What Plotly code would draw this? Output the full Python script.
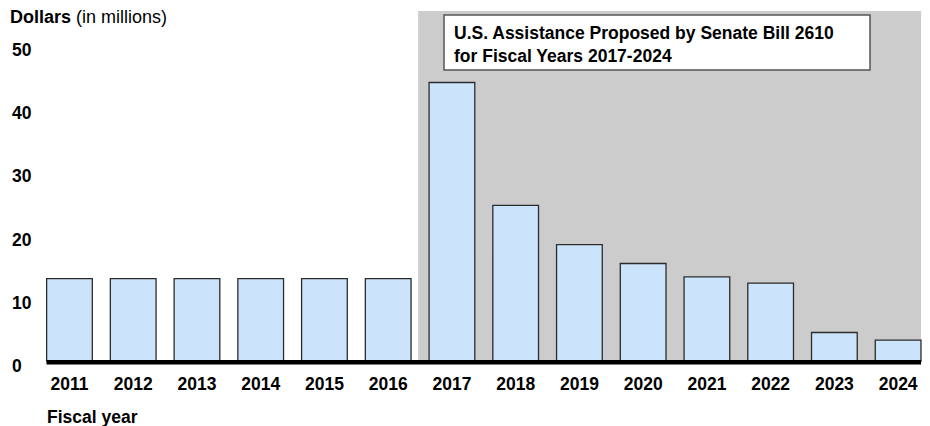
import plotly.graph_objects as go

years = ["2011", "2012", "2013", "2014", "2015", "2016", "2017",
         "2018", "2019", "2020", "2021", "2022", "2023", "2024"]
values = [13.0, 13.0, 13.0, 13.0, 13.0, 13.0, 44.0,
          24.6, 18.4, 15.4, 13.3, 12.3, 4.5, 3.3]
y_ticks = [0, 10, 20, 30, 40, 50]

FONT = "Arial, 'Liberation Sans', sans-serif"
OFF = 8                      # page body margin
W, H = 922, 418              # figure size (page is 930x426)
SCALE = 6.33                 # px per million
Y_LOW = -3
ML, MR, MT = 0, 0, 3
BASE = 361 - OFF             # figure y of value 0
PB = BASE + (-Y_LOW) * SCALE # figure y of plot bottom
MB = H - PB
PW, PH = W - ML - MR, PB - MT


def px(x):
    """page x -> paper x"""
    return (x - OFF - ML) / PW


def py(y):
    """page y -> paper y"""
    return (PB - (y - OFF)) / PH


fig = go.Figure()
fig.add_trace(go.Bar(
    x=list(range(len(years))), y=values,
    marker=dict(color="#cce4fb", line=dict(color="#2b2b2b", width=1.3)),
    width=0.717, showlegend=False, hoverinfo="skip",
))

shapes = [
    # shaded proposal period
    dict(type="rect", xref="x", yref="y", x0=5.47, x1=13.36, y0=0,
         y1=(BASE - MT) / SCALE,
         fillcolor="#cccccc", line=dict(width=0), layer="below"),
    # baseline
    dict(type="line", xref="x", yref="y", x0=-0.36, x1=13.36, y0=-0.2, y1=-0.2,
         line=dict(color="black", width=4.5), layer="above"),
    # title box
    dict(type="rect", xref="paper", yref="paper", x0=px(444), x1=px(870),
         y0=py(70), y1=py(15), fillcolor="white",
         line=dict(color="#555555", width=1.5), layer="above"),
]

annotations = [
    dict(xref="paper", yref="paper", x=px(452), y=py(44), xanchor="left",
         yanchor="middle", align="left", showarrow=False,
         text="<b>U.S. Assistance Proposed by Senate Bill 2610<br>for Fiscal Years 2017-2024</b>",
         font=dict(family=FONT, size=17.5, color="black")),
    dict(xref="paper", yref="paper", x=px(8), y=py(17), xanchor="left",
         yanchor="middle", showarrow=False,
         text="<b>Dollars</b> (in millions)",
         font=dict(family=FONT, size=18, color="black")),
    dict(xref="paper", yref="paper", x=px(45), y=py(417), xanchor="left",
         yanchor="middle", showarrow=False,
         text="<b>Fiscal year</b>",
         font=dict(family=FONT, size=17.5, color="black")),
]

fig.update_layout(
    width=W, height=H,
    margin=dict(l=ML, r=MR, t=MT, b=MB, pad=0),
    paper_bgcolor="white", plot_bgcolor="white",
    shapes=shapes, annotations=annotations,
    xaxis=dict(
        domain=[px(37.6), 1], range=[-0.5, 13.5],
        tickmode="array", tickvals=list(range(len(years))),
        ticktext=["<b>%s</b>" % y for y in years],
        tickfont=dict(family=FONT, size=17.5, color="black"),
        ticklabelstandoff=-9,
        showgrid=False, zeroline=False, showline=False, ticks="",
        fixedrange=True,
    ),
    yaxis=dict(
        anchor="free", position=0, range=[Y_LOW, (BASE - MT) / SCALE],
        tickmode="array", tickvals=y_ticks,
        ticktext=["<b>%d</b>" % v for v in y_ticks],
        tickfont=dict(family=FONT, size=17.5, color="black"),
        ticklabelposition="inside", ticklabelshift=5,
        showgrid=False, zeroline=False, showline=False, ticks="",
        fixedrange=True,
    ),
)

fig.write_html("out.html")
